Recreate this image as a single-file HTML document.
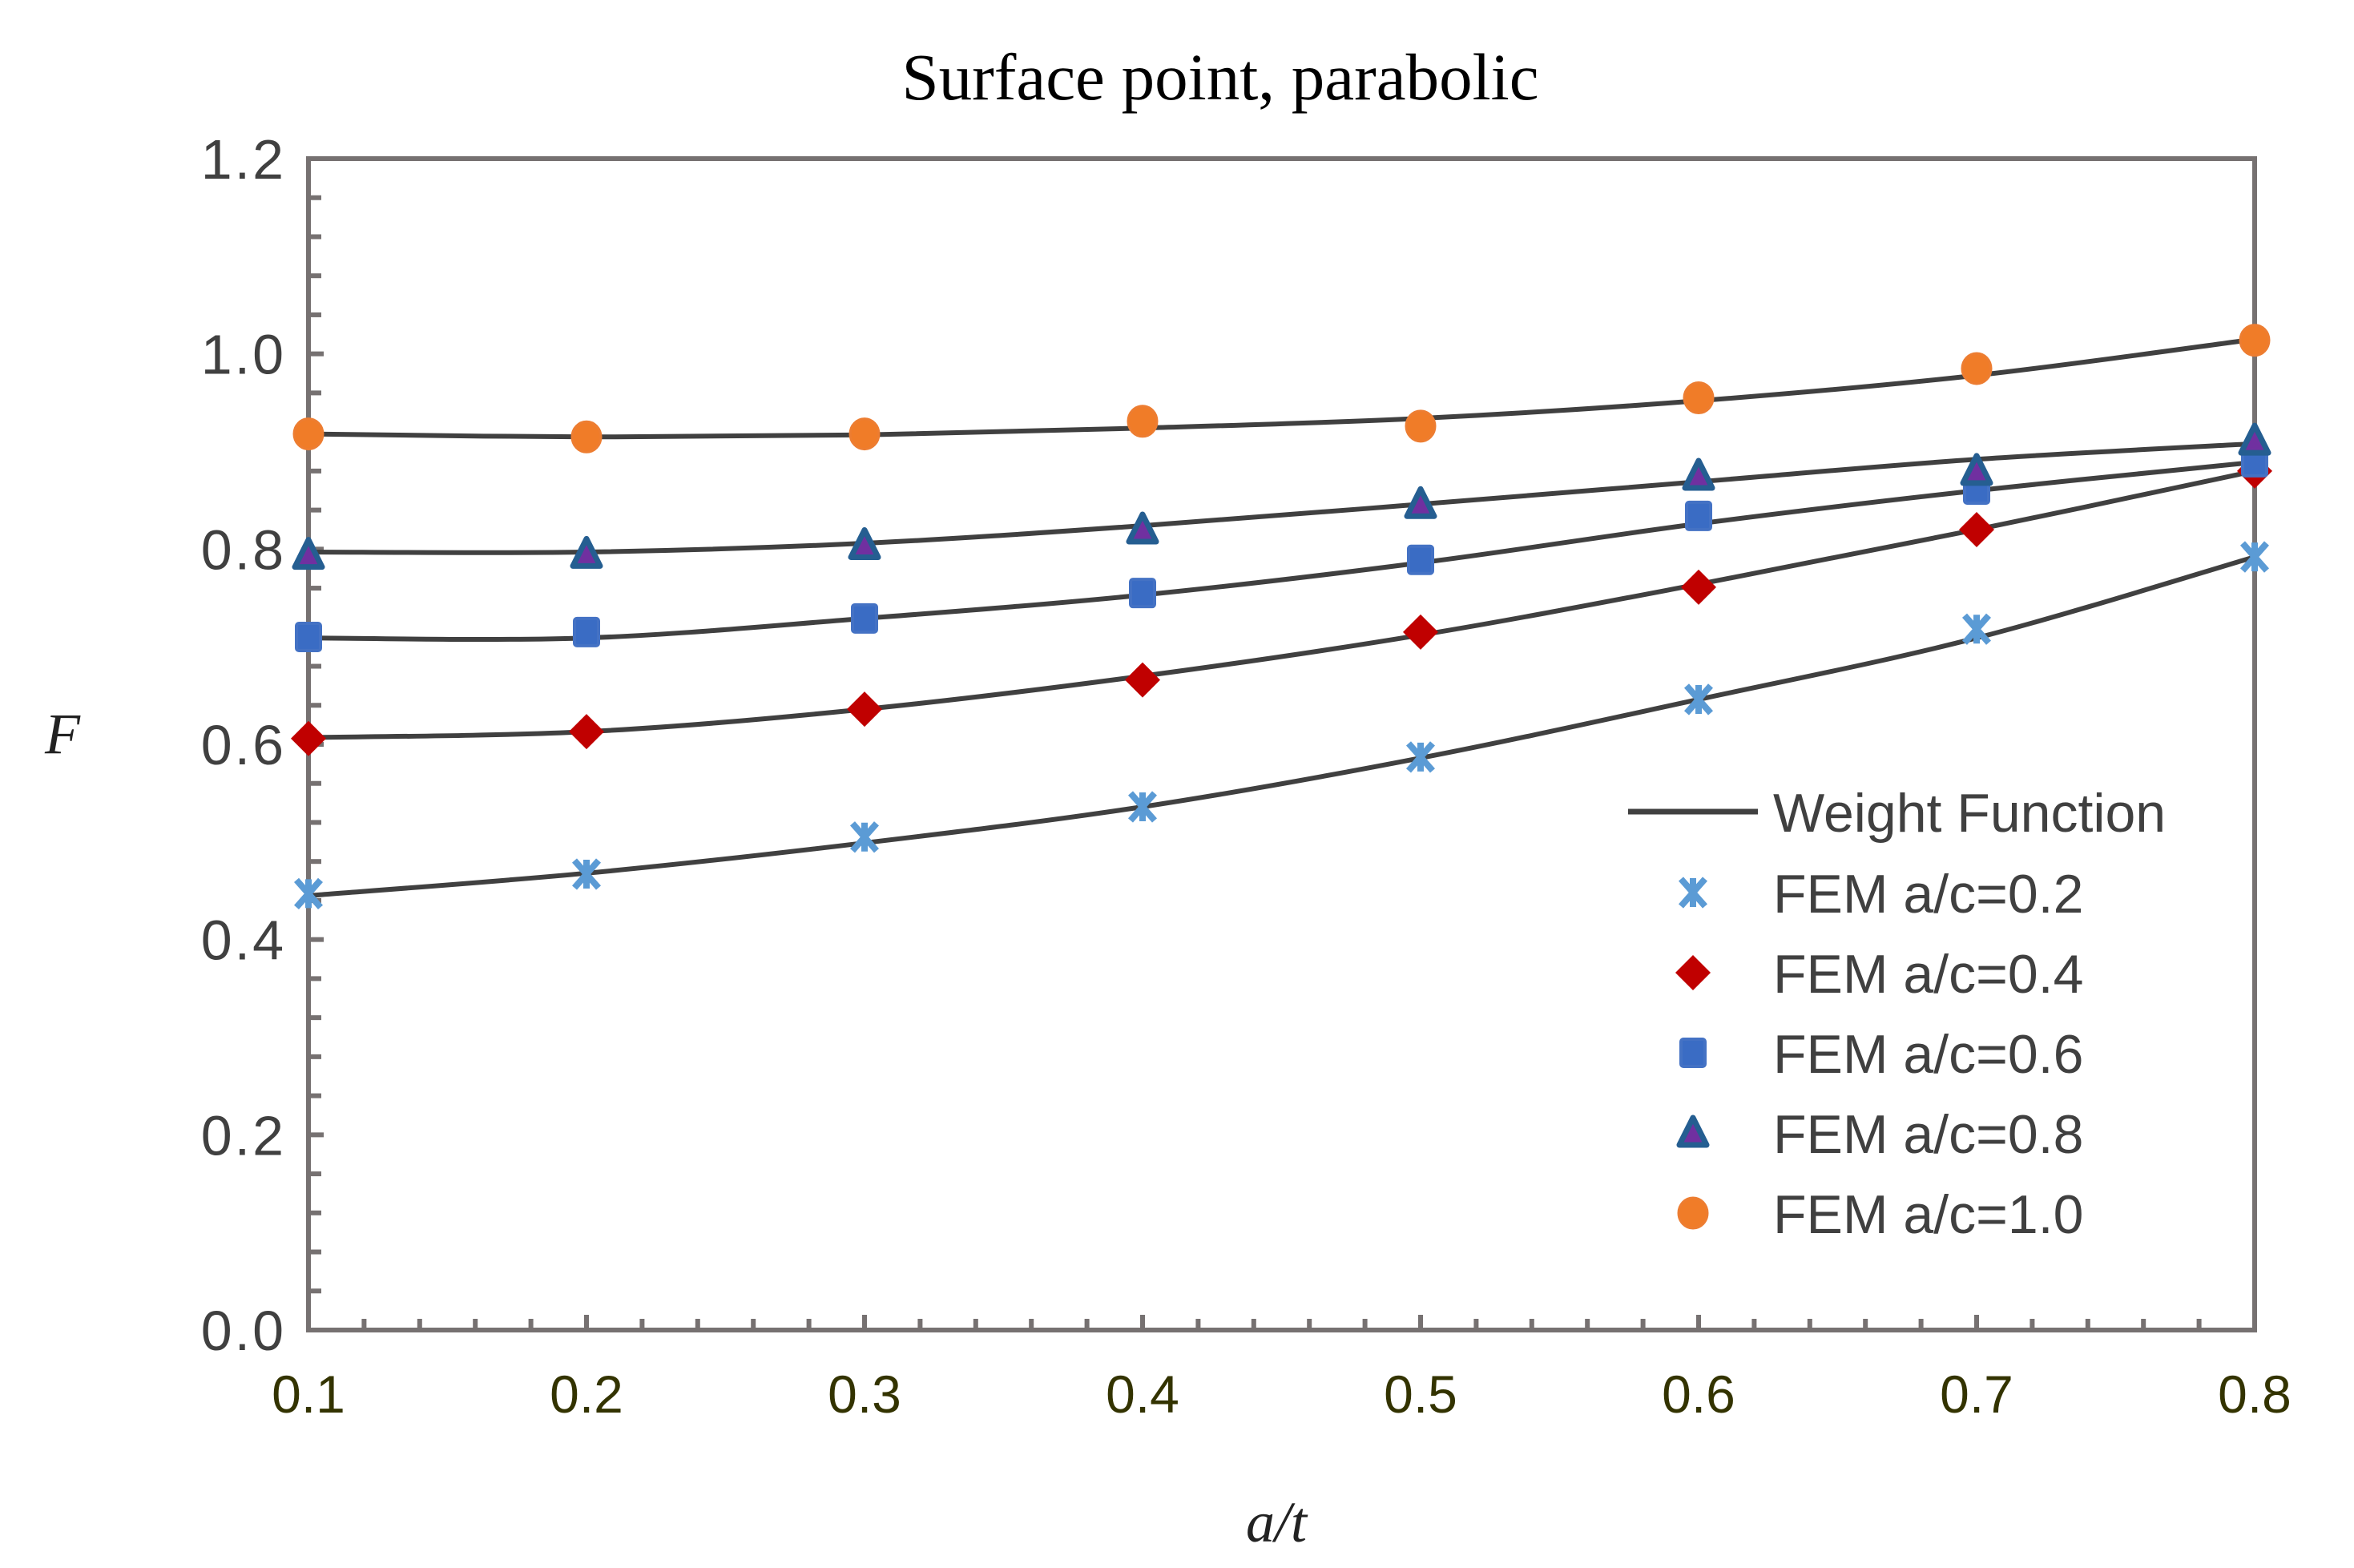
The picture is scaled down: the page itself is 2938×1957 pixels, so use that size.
<!DOCTYPE html>
<html><head><meta charset="utf-8"><style>
html,body{margin:0;padding:0;background:#fff;}
svg{display:block;}
</style></head><body>
<svg id="chart" width="2938" height="1957" viewBox="0 0 2938 1957" xmlns="http://www.w3.org/2000/svg">
<rect width="2938" height="1957" fill="#fff"/>
<text x="1523" y="124" text-anchor="middle" font-family="Liberation Serif, serif" font-size="83" fill="#000">Surface point, parabolic</text>
<g id="plot"></g>
<text x="78" y="940" text-anchor="middle" font-family="Liberation Serif, serif" font-style="italic" font-size="72" fill="#222">F</text>
<text x="1593" y="1924" text-anchor="middle" font-family="Liberation Serif, serif" font-style="italic" font-size="72" fill="#222">a/t</text>
<g id="legend"></g>
</svg>
<script>
const xCats = [0.1,0.2,0.3,0.4,0.5,0.6,0.7,0.8];
const yTicks = [0.0,0.2,0.4,0.6,0.8,1.0,1.2];
const yTickLabels = ["0.0","0.2","0.4","0.6","0.8","1.0","1.2"];
const xTickLabels = ["0.1","0.2","0.3","0.4","0.5","0.6","0.7","0.8"];
const fem02 = [0.447,0.467,0.505,0.536,0.587,0.646,0.718,0.792];
const fem04 = [0.606,0.613,0.636,0.666,0.715,0.761,0.820,0.880];
const fem06 = [0.710,0.715,0.729,0.755,0.789,0.834,0.861,0.889];
const fem08 = [0.794,0.795,0.804,0.820,0.846,0.875,0.880,0.911];
const fem10 = [0.918,0.915,0.918,0.931,0.926,0.955,0.985,1.014];
const wf02 = [0.445,0.468,0.499,0.536,0.586,0.646,0.709,0.792];
const wf04 = [0.607,0.613,0.636,0.670,0.712,0.764,0.820,0.880];
const wf06 = [0.709,0.709,0.729,0.753,0.786,0.826,0.860,0.889];
const wf08 = [0.797,0.797,0.806,0.824,0.846,0.869,0.892,0.908];
const wf10 = [0.918,0.915,0.917,0.924,0.934,0.952,0.978,1.015];

const NS='http://www.w3.org/2000/svg';
const L=385,R=2814,T=198,B=1660;
const xs=v=>L+(v-0.1)/0.7*(R-L);
const ys=v=>B-v/1.2*(B-T);
const plot=document.getElementById('plot');
function mk(tag,attrs,parent){const e=document.createElementNS(NS,tag);for(const k in attrs)e.setAttribute(k,attrs[k]);(parent||plot).appendChild(e);return e;}
const axisC='#767171';
let fr=mk('rect',{x:L,y:T,width:R-L,height:B-T,fill:'none',stroke:axisC,'stroke-width':6});


for(let i=0;i<=30;i++){const v=i*0.04;const y=ys(v);const major=(i%5===0);
 if(i===0||i===30)continue;
 const t=mk('line',{x1:L,x2:L+(major?19:16),y1:y,y2:y,stroke:axisC,'stroke-width':6});
 
 }
for(let i=1;i<35;i++){const x=L+i*(R-L)/35;const major=(i%5===0);
 const t=mk('line',{x1:x,x2:x,y1:B,y2:B-(major?19:14),stroke:axisC,'stroke-width':6});
 
 }
yTicks.forEach((v,i)=>{const t=mk('text',{x:357,y:ys(v)+25,'text-anchor':'end','font-family':'Liberation Sans, sans-serif','font-size':70,'letter-spacing':3,fill:'#404040'});t.textContent=yTickLabels[i];
 
 });
xCats.forEach((v,i)=>{const t=mk('text',{x:xs(v),y:1763,'text-anchor':'middle','font-family':'Liberation Sans, sans-serif','font-size':66,fill:'#333300'});t.textContent=xTickLabels[i];
 
 });
function curve(vals,name){const p=vals.map((v,i)=>[xs(xCats[i]),ys(v)]);let d='M'+p[0][0]+','+p[0][1];
 for(let i=0;i<p.length-1;i++){const p0=p[Math.max(0,i-1)],p1=p[i],p2=p[i+1],p3=p[Math.min(p.length-1,i+2)];
  const c1=[p1[0]+(p2[0]-p0[0])/6,p1[1]+(p2[1]-p0[1])/6],c2=[p2[0]-(p3[0]-p1[0])/6,p2[1]-(p3[1]-p1[1])/6];
  d+=' C'+c1+' '+c2+' '+p2;}
 const e=mk('path',{d:d,fill:'none',stroke:'#404040','stroke-width':6});
 
 }
function marker(type,x,y,parent){const g=mk('g',{},parent);
 if(type==='star'){mk('path',{d:`M${x-15},${y-17}L${x+15},${y+17}M${x+15},${y-17}L${x-15},${y+17}M${x},${y-18}L${x},${y+18}`,stroke:'#5B9BD5','stroke-width':8,fill:'none'},g);}
 else if(type==='diamond'){mk('path',{d:`M${x},${y-22}L${x+22},${y}L${x},${y+22}L${x-22},${y}Z`,fill:'#C00000'},g);}
 else if(type==='square'){mk('rect',{x:x-15,y:y-17,width:30,height:34,rx:3,fill:'#3A6CC4',stroke:'#4472C4','stroke-width':4},g);}
 else if(type==='tri'){mk('path',{d:`M${x},${y-19}L${x+17},${y+15}L${x-17},${y+15}Z`,fill:'#7030A0',stroke:'#255E91','stroke-width':7,'stroke-linejoin':'round'},g);}
 else {mk('ellipse',{cx:x,cy:y,rx:18,ry:19,fill:'#F07C28',stroke:'#ED7D31','stroke-width':3},g);}
 return g;}
const series=[[fem02,'star','fem-ac-0.2'],[fem04,'diamond','fem-ac-0.4'],[fem06,'square','fem-ac-0.6'],[fem08,'tri','fem-ac-0.8'],[fem10,'circle','fem-ac-1.0']];
[[wf02,'wf-ac-0.2'],[wf04,'wf-ac-0.4'],[wf06,'wf-ac-0.6'],[wf08,'wf-ac-0.8'],[wf10,'wf-ac-1.0']].forEach(s=>curve(s[0],'weight-function-'+s[1]));
series.forEach(s=>{s[0].forEach((v,i)=>{const m=marker(s[1],xs(xCats[i]),ys(v));
 
 });});
const lg=document.getElementById('legend');
const labels=['Weight Function','FEM a/c=0.2','FEM a/c=0.4','FEM a/c=0.6','FEM a/c=0.8','FEM a/c=1.0'];
const rowY=[1013,1114,1214,1314,1414,1514];
const ln=mk('line',{x1:2032,x2:2194,y1:rowY[0],y2:rowY[0],stroke:'#404040','stroke-width':7},lg);


series.forEach((s,i)=>{const m=marker(s[1],2113,rowY[i+1],lg);
 
 });
labels.forEach((t,i)=>{const e=mk('text',{x:2213,y:rowY[i]+25,'font-family':'Liberation Sans, sans-serif','font-size':68,fill:'#404040'},lg);e.textContent=t;
 
 });
</script>
</body></html>
